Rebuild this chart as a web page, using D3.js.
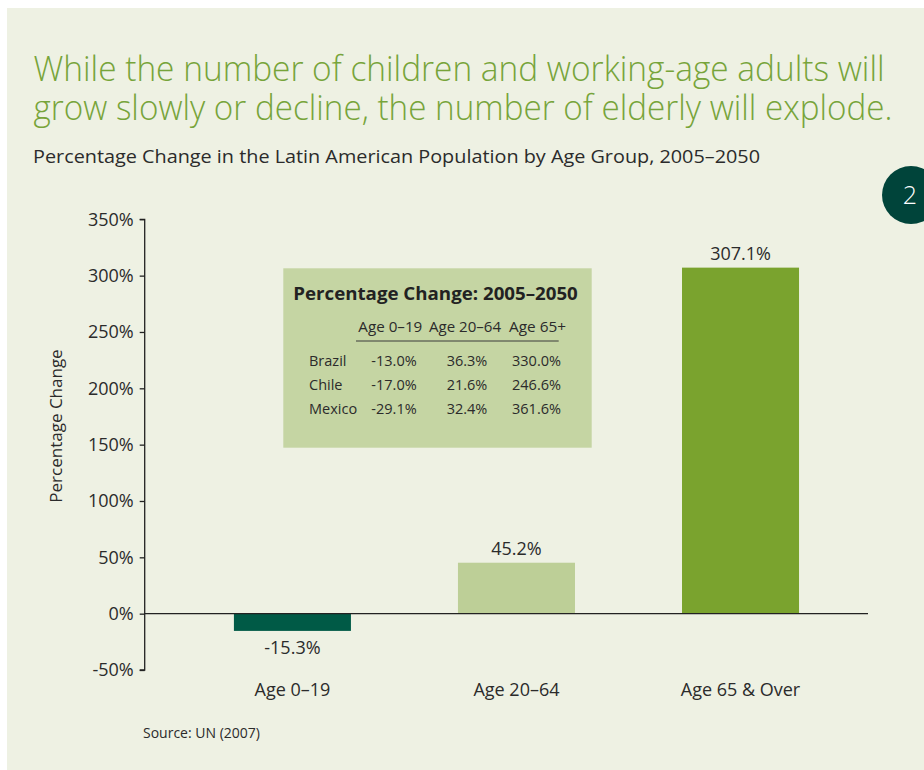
<!DOCTYPE html>
<html>
<head>
<meta charset="utf-8">
<script src="https://cdn.jsdelivr.net/npm/d3@7"></script>
<style>
  html, body { margin: 0; padding: 0; background: #ffffff; }
  svg { display: block; }
  text { font-family: "Open Sans", "Noto Sans", sans-serif; }
</style>
</head>
<body>
<svg id="chart" width="924" height="770"></svg>
<script>
// Age groups and the percentage change in population, 2005–2050
const categories = ["Age 0–19", "Age 20–64", "Age 65 & Over"];
const changes = [-15.3, 45.2, 307.1];
const valueLabels = ["-15.3%", "45.2%", "307.1%"];
const barColors = ["#005a46", "#bdcf97", "#7aa32e"];

// Y axis ticks
const yTicks = [-50, 0, 50, 100, 150, 200, 250, 300, 350];

// Inset table: country breakdown
const tableColumns = ["Age 0–19", "Age 20–64", "Age 65+"];
const tableCountries = ["Brazil", "Chile", "Mexico"];
const tableYoung = ["-13.0%", "-17.0%", "-29.1%"];
const tableWorking = ["36.3%", "21.6%", "32.4%"];
const tableElderly = ["330.0%", "246.6%", "361.6%"];

const svg = d3.select("#chart");

// Panel background
svg.append("rect")
  .attr("x", 7).attr("y", 8).attr("width", 917).attr("height", 762)
  .attr("fill", "#eef1e3");

// Squeeze or stretch a text element to a target width
function fitWidth(sel, w) {
  sel.attr("textLength", w).attr("lengthAdjust", "spacingAndGlyphs");
  return sel;
}

// Headline, two lines in one text block
const title = svg.append("text").attr("fill", "#77a43a")
  .style("font-weight", 300).style("font-size", "34px");
fitWidth(title.append("tspan").attr("x", 33.5).attr("y", 81)
  .text("While the number of children and working-age adults will"), 851);
fitWidth(title.append("tspan").attr("x", 33.5).attr("y", 120)
  .text("grow slowly or decline, the number of elderly will explode."), 859);

// Subtitle
fitWidth(svg.append("text").attr("x", 33).attr("y", 163)
  .attr("fill", "#2b2b2b").style("font-size", "19px")
  .text("Percentage Change in the Latin American Population by Age Group, 2005–2050"), 727);

// Figure number badge
svg.append("circle").attr("cx", 911).attr("cy", 195).attr("r", 29).attr("fill", "#00443a");
svg.append("text").attr("x", 910).attr("y", 204).attr("text-anchor", "middle")
  .attr("fill", "#ffffff").style("font-size", "25px").style("font-weight", 300).text("2");

// Scales
const y = d3.scaleLinear().domain([-50, 350]).range([670, 219.3]);
const x = d3.scaleBand().domain(categories)
  .range([144.7, 868]).paddingInner(0.4777).paddingOuter(0.353).align(0.564);

// Inset table
const tbl = svg.append("g");
tbl.append("rect").attr("x", 283.3).attr("y", 268.3).attr("width", 308.4).attr("height", 179.4)
  .attr("fill", "#c5d5a3");
fitWidth(tbl.append("text").attr("x", 293.3).attr("y", 300)
  .attr("fill", "#222").style("font-size", "17.5px").style("font-weight", 700)
  .text("Percentage Change: 2005–2050"), 284.5);
const headX = [358.3, 429, 509];
const headW = [64, 72, 57];
tableColumns.forEach((c, i) => {
  fitWidth(tbl.append("text").attr("x", headX[i]).attr("y", 331.7)
    .attr("fill", "#2b2b2b").style("font-size", "14px").text(c), headW[i]);
});
tbl.append("line").attr("x1", 356).attr("x2", 558.7).attr("y1", 341).attr("y2", 341)
  .attr("stroke", "#3a3a3a").attr("stroke-width", 1);
const rowY = [366, 390, 414];
const colEnd = [416.7, 487.3, 561];
const cols = [tableYoung, tableWorking, tableElderly];
tableCountries.forEach((name, r) => {
  tbl.append("text").attr("x", 309).attr("y", rowY[r])
    .attr("fill", "#2b2b2b").style("font-size", "14.5px").text(name);
  cols.forEach((col, c) => {
    tbl.append("text").attr("x", colEnd[c]).attr("y", rowY[r]).attr("text-anchor", "end")
      .attr("fill", "#2b2b2b").style("font-size", "14.5px").text(col[r]);
  });
});

// Bars
svg.append("g").selectAll("rect").data(changes).join("rect")
  .attr("x", (d, i) => x(categories[i]))
  .attr("width", x.bandwidth())
  .attr("y", d => y(Math.max(0, d)))
  .attr("height", d => Math.abs(y(d) - y(0)))
  .attr("fill", (d, i) => barColors[i]);

// Value labels
svg.append("g").selectAll("text").data(changes).join("text")
  .attr("x", (d, i) => x(categories[i]) + x.bandwidth() / 2)
  .attr("y", d => d >= 0 ? y(d) - 8 : y(d) + 23)
  .attr("text-anchor", "middle")
  .attr("fill", "#2b2b2b").style("font-size", "18px")
  .text((d, i) => valueLabels[i]);

// Y axis
const yAxis = svg.append("g").attr("transform", "translate(144.7,0)")
  .call(d3.axisLeft(y).tickValues(yTicks).tickFormat(d => d + "%").tickSize(5).tickPadding(6));
yAxis.select(".domain").attr("stroke", "#222").attr("stroke-width", 1.3)
  .attr("d", `M-5,${y(350)}H0V${y(-50)}H-5`);
yAxis.selectAll(".tick line").attr("stroke", "#222").attr("stroke-width", 1.3);
yAxis.selectAll(".tick text").attr("fill", "#2b2b2b")
  .style("font-size", "18px").style("font-family", "'Open Sans', sans-serif");

// Zero baseline
svg.append("line").attr("x1", 144.7).attr("x2", 868).attr("y1", y(0)).attr("y2", y(0))
  .attr("stroke", "#222").attr("stroke-width", 1.3);

// Category labels
svg.append("g").selectAll("text").data(categories).join("text")
  .attr("x", d => x(d) + x.bandwidth() / 2)
  .attr("y", 696)
  .attr("text-anchor", "middle")
  .attr("fill", "#2b2b2b").style("font-size", "18px")
  .text(d => d);

// Y axis title
svg.append("text")
  .attr("transform", "translate(62,426) rotate(-90)")
  .attr("text-anchor", "middle")
  .attr("fill", "#2b2b2b").style("font-size", "17px")
  .text("Percentage Change");

// Source note
svg.append("text").attr("x", 143).attr("y", 738)
  .attr("fill", "#2b2b2b").style("font-size", "14px")
  .text("Source: UN (2007)");
</script>
</body>
</html>
